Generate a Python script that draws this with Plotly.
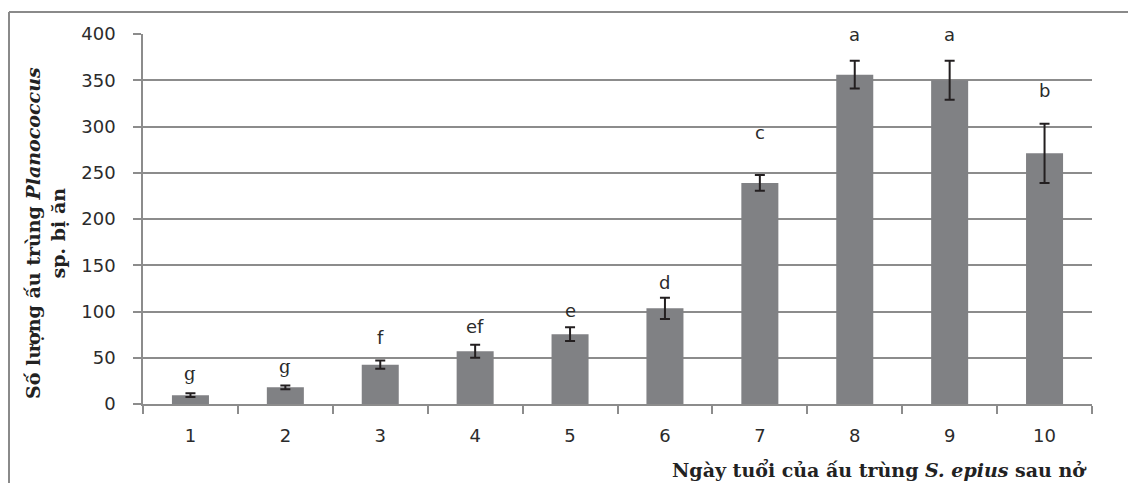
import plotly.graph_objects as go

# ---- data ----
days = ["1", "2", "3", "4", "5", "6", "7", "8", "9", "10"]
means = [9.5, 18, 42.5, 57, 75.5, 103.5, 239, 356, 350, 271]
errors = [2, 2, 4.5, 7, 7.5, 11.5, 8.5, 15, 21, 32]
letters = ["g", "g", "f", "ef", "e", "d", "c", "a", "a", "b"]
letter_y = [33.5, 41, 71.5, 83.5, 101.5, 131, 293, 399, 399, 339]
y_ticks = [0, 50, 100, 150, 200, 250, 300, 350, 400]

GRID = "#8c8c8c"
BAR = "#808184"
ERR = "#231f20"
TXT = "#2b2b2b"

fig = go.Figure()
fig.add_trace(go.Bar(
    x=days, y=means,
    marker=dict(color=BAR, line=dict(width=0)),
    error_y=dict(type="data", array=errors, visible=True,
                 color=ERR, thickness=2, width=5),
    showlegend=False,
))

for i, (t, yy) in enumerate(zip(letters, letter_y)):
    fam = "DejaVu Serif" if t == "g" else "DejaVu Sans"
    fig.add_annotation(x=i, y=yy, xref="x", yref="y", text=t,
                       showarrow=False, yanchor="middle",
                       font=dict(family=fam, size=18, color=TXT))

L, R, T, B = 143, 36, 34, 79
W, H = 1128, 483
pw = W - L - R
ph = H - T - B

# y axis title
fig.add_annotation(xref="paper", yref="paper",
                   x=(45 - L) / pw, y=(H - B - 233) / ph,
                   text="<b>Số lượng ấu trùng <i>Planococcus</i><br>sp. bị ăn</b>",
                   textangle=-90, showarrow=False,
                   xanchor="center", yanchor="middle",
                   font=dict(family="DejaVu Serif", size=19, color="#222222"))
# x axis title
fig.add_annotation(xref="paper", yref="paper",
                   x=(1089 - L) / pw, y=-(469 - (H - B)) / ph,
                   text="<b>Ngày tuổi của ấu trùng <i>S. epius</i> sau nở</b>",
                   showarrow=False, xanchor="right", yanchor="middle",
                   font=dict(family="DejaVu Serif", size=19, color="#222222"))

# outer frame (left and top borders)
fig.add_shape(type="line", xref="paper", yref="paper",
              x0=(9 - L) / pw, x1=(9 - L) / pw,
              y0=-(B + 5) / ph, y1=(H - B - 12) / ph,
              line=dict(color="#8a8a8a", width=2))
fig.add_shape(type="line", xref="paper", yref="paper",
              x0=(9 - L) / pw, x1=(W + 5 - L) / pw,
              y0=(H - B - 12) / ph, y1=(H - B - 12) / ph,
              line=dict(color="#8a8a8a", width=2))

fig.update_layout(
    width=W, height=H,
    margin=dict(l=L, r=R, t=T, b=B, autoexpand=False),
    paper_bgcolor="white", plot_bgcolor="white",
    bargap=0.61,
    font=dict(family="DejaVu Sans", size=18, color=TXT),
)
fig.update_xaxes(
    type="category", tickson="boundaries", ticks="outside", ticklen=8,
    tickcolor=GRID, tickwidth=1.5,
    showline=True, linecolor=GRID, linewidth=1.5,
    showgrid=False, ticklabelstandoff=15,
    range=[-0.5, 9.5],
    tickfont=dict(family="DejaVu Sans", size=18, color=TXT),
)
fig.update_yaxes(
    range=[0, 400], tickvals=y_ticks, ticks="outside", ticklen=8,
    tickcolor=GRID, tickwidth=1.5,
    showline=True, linecolor=GRID, linewidth=1.5,
    showgrid=True, gridcolor=GRID, gridwidth=1.5,
    zeroline=False, ticklabelstandoff=14,
    tickfont=dict(family="DejaVu Sans", size=18, color=TXT),
)

fig.write_html("out.html", config={"displayModeBar": False},
               post_script="document.body.style.margin='0';document.body.style.overflow='hidden';")
